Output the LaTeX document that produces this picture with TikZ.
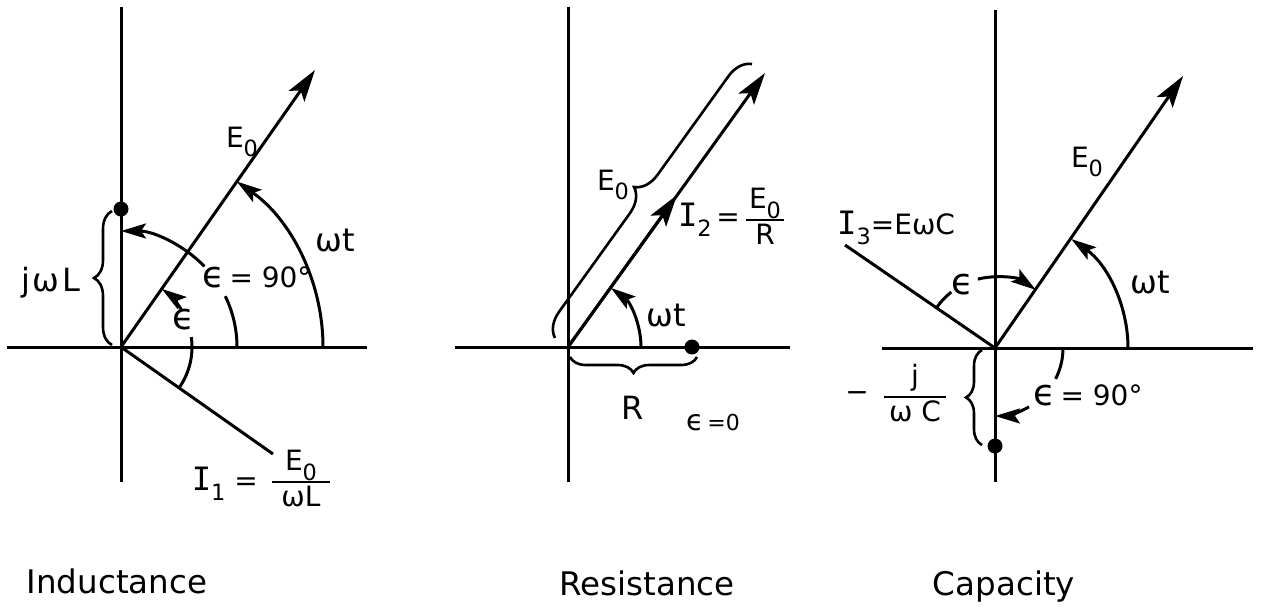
\documentclass[tikz,border=0pt]{standalone}
\usepackage{fontspec}
\usepackage{graphicx}
\setmainfont{DejaVu Sans}
\newfontfamily\monoI{DejaVu Sans Mono}
\usetikzlibrary{arrows.meta,decorations.pathreplacing}
\newcommand\Icur{\scalebox{1.15}{\monoI I}}
\newcommand\eps{\scalebox{1.3}{ϵ}}
\newcommand\sbs[1]{\raisebox{-0.35em}{\scalebox{0.8}{#1}}}
\newcommand\myfr[3][3pt]{{\setlength\arrayrulewidth{2.6pt}\renewcommand\arraystretch{1.05}\begin{tabular}{@{\hspace{#1}}c@{\hspace{#1}}}#2\\\hline #3\end{tabular}}}
\begin{document}
\begin{tikzpicture}[x=1pt,y=1pt,
  ax/.style={line width=3pt},
  vec/.style={line width=3pt,-{Stealth[length=32pt,width=19pt,inset=7pt]}},
  arcar/.style={line width=3pt,-{Stealth[length=25pt,width=15pt,inset=5pt]}},
  arcpl/.style={line width=3pt},
  lbl/.style={font=\fontsize{28}{32}\selectfont, inner sep=1pt},
  sml/.style={font=\fontsize{22}{26}\selectfont, inner sep=1pt},
  big/.style={font=\fontsize{32}{36}\selectfont, inner sep=1pt},
  ttl/.style={font=\fontsize{32.5}{38}\selectfont, inner sep=0pt, anchor=base},
  dot/.style={circle,fill=black,inner sep=0pt,minimum size=15pt},
  br/.style={line width=2.6pt,decorate,decoration={brace,amplitude=#1}},
]
\useasboundingbox (0,0) rectangle (1263,-606);

% ---------------- Inductance ----------------
\coordinate (O1) at (121,-347);
\coordinate (L1t) at (121,-7);
\coordinate (L1b) at (121,-482);
\coordinate (L1l) at (7,-347);
\coordinate (L1r) at (367,-347);
\coordinate (E1) at (315,-70);
\coordinate (I1) at (273,-454);
\coordinate (B1a) at (112,-345);
\coordinate (B1b) at (112,-211);
\draw[ax] (L1t) -- (L1b);
\draw[ax] (L1l) -- (L1r);
\draw[vec] (O1) -- (E1);
\draw[ax] (O1) -- (I1);
\node[dot] (d1) at (121,-209) {};
\draw[br=18] (B1a) -- (B1b);
\draw[arcpl] ([shift={(0:116)}]O1) arc[start angle=0,end angle=26,radius=116];
\draw[arcar] ([shift={(44:116)}]O1) arc[start angle=44,end angle=90,radius=116];
\draw[arcar] ([shift={(0:202)}]O1) arc[start angle=0,end angle=55,radius=202];
\draw[arcpl] ([shift={(-35:71)}]O1) arc[start angle=-35,end angle=8,radius=71];
\draw[arcar] ([shift={(32:71)}]O1) arc[start angle=32,end angle=55,radius=71];
\node[lbl] (e1) at (242,-142) {E\sbs{0}};
\node[big] (wt1) at (335,-240) {ωt};
\node[lbl] (eps90a) at (257,-277) {\eps\,= 90°};
\node[lbl] (eps1) at (184,-320) {\eps};
\node[big] (jwl) at (51,-283) {j\kern2ptω\kern3ptL};
\node[lbl,anchor=east] (i1) at (259,-484) {\Icur\sbs{1} =};
\node[lbl] (i1f) at (301,-482) {\myfr[9pt]{E\sbs{0}}{ωL}};
\node[ttl] (t1) at (117,-593) {Inductance};

% ---------------- Resistance ----------------
\coordinate (O2) at (568,-347);
\coordinate (L2t) at (568,-7);
\coordinate (L2b) at (568,-482);
\coordinate (L2l) at (455,-347);
\coordinate (L2r) at (790,-347);
\coordinate (E2) at (765,-73);
\coordinate (I2) at (677,-195);
\coordinate (B2a) at (697,-357);
\coordinate (B2b) at (570,-357);
\coordinate (B3a) at (555,-338);
\coordinate (B3b) at (752,-64);
\draw[ax] (L2t) -- (L2b);
\draw[ax] (L2l) -- (L2r);
\draw[vec] (O2) -- (E2);
\draw[vec] (O2) -- (I2);
\node[dot] (d2) at (692,-347) {};
\draw[br=16] (B2a) -- (B2b);
\draw[br=24] (B3a) -- (B3b);
\draw[arcar] ([shift={(0:73)}]O2) arc[start angle=0,end angle=54,radius=73];
\node[lbl] (e2) at (613,-185) {E\sbs{0}};
\node[lbl,anchor=east] (i2) at (741,-220) {\Icur\sbs{2}\,=};
\node[lbl] (i2f) at (765,-220) {\myfr{E\sbs{0}}{R}};
\node[big] (wt2) at (666,-315) {ωt};
\node[big] (r2) at (633,-408) {R};
\node[sml] (eps0) at (713,-423) {\eps\,=0};
\node[ttl] (t2) at (647,-595) {Resistance};

% ---------------- Capacity ----------------
\coordinate (O3) at (995,-348);
\coordinate (L3t) at (995,-10);
\coordinate (L3b) at (995,-482);
\coordinate (L3l) at (882,-348);
\coordinate (L3r) at (1253,-348);
\coordinate (E3) at (1183,-76);
\coordinate (I3) at (845,-245);
\coordinate (B4a) at (982,-445);
\coordinate (B4b) at (982,-350);
\draw[ax] (L3t) -- (L3b);
\draw[ax] (L3l) -- (L3r);
\draw[vec] (O3) -- (E3);
\draw[ax] (O3) -- (I3);
\node[dot] (d3) at (995,-446) {};
\draw[br=16] (B4a) -- (B4b);
\draw[arcpl] ([shift={(145.5:71)}]O3) arc[start angle=145.5,end angle=128,radius=71];
\draw[arcar] ([shift={(104:71)}]O3) arc[start angle=104,end angle=55,radius=71];
\draw[arcar] ([shift={(0:133)}]O3) arc[start angle=0,end angle=55,radius=133];
\draw[arcpl] ([shift={(0:68)}]O3) arc[start angle=0,end angle=-27,radius=68];
\draw[arcar] ([shift={(-60:68)}]O3) arc[start angle=-60,end angle=-90,radius=68];
\node[lbl] (e3) at (1087,-162) {E\sbs{0}};
\node[big] (wt3) at (1150,-282) {ωt};
\node[lbl] (eps3) at (963,-285) {\eps};
\node[lbl] (eps90c) at (1088,-395) {\eps\,= 90°};
\node[lbl,anchor=west] (i3) at (836,-228) {\Icur\sbs{3}=EωC};
\node[lbl] (minus) at (857,-397) {−};
\node[lbl] (cf) at (915,-397) {\myfr[5pt]{j}{ω C}};
\node[ttl] (t3) at (1004,-595) {Capacity};
\end{tikzpicture}
\end{document}
